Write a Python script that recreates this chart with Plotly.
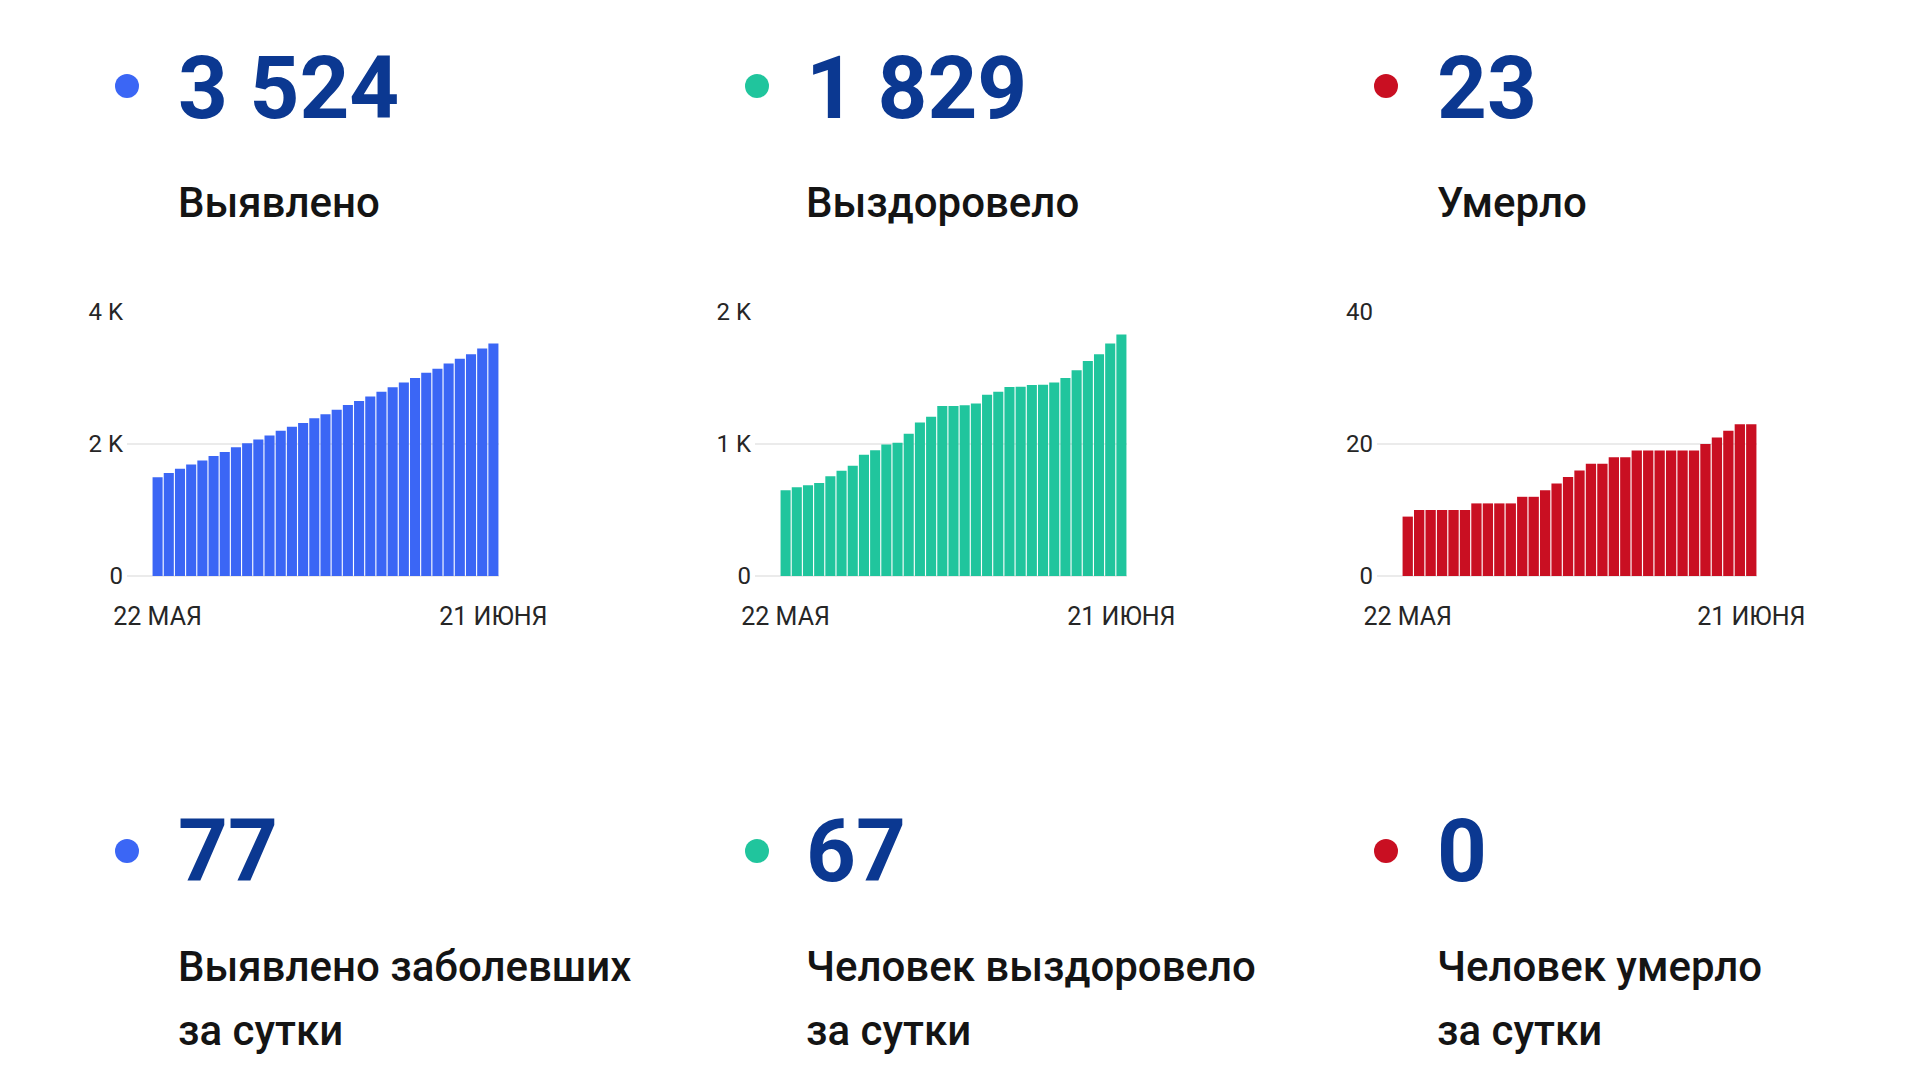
import plotly.graph_objects as go

W, H = 1920, 1080

# ---------------- data ----------------
dates = ["22 мая", "23 мая", "24 мая", "25 мая", "26 мая", "27 мая", "28 мая", "29 мая",
         "30 мая", "31 мая", "1 июня", "2 июня", "3 июня", "4 июня", "5 июня", "6 июня",
         "7 июня", "8 июня", "9 июня", "10 июня", "11 июня", "12 июня", "13 июня", "14 июня",
         "15 июня", "16 июня", "17 июня", "18 июня", "19 июня", "20 июня", "21 июня"]
cases = [1495, 1560, 1626, 1690, 1750, 1820, 1880, 1950, 2010, 2070, 2130, 2200, 2260, 2320,
         2390, 2450, 2520, 2590, 2650, 2720, 2790, 2860, 2930, 3000, 3080, 3140, 3220, 3290,
         3360, 3447, 3524]
recovered = [649, 672, 687, 705, 755, 798, 836, 919, 952, 997, 1010, 1078, 1162, 1207, 1288,
             1288, 1293, 1306, 1374, 1396, 1432, 1434, 1447, 1449, 1465, 1500, 1558, 1629,
             1679, 1762, 1829]
deaths = [9, 10, 10, 10, 10, 10, 11, 11, 11, 11, 12, 12, 13, 14, 15, 16, 17, 17, 18, 18, 19,
          19, 19, 19, 19, 19, 20, 21, 22, 23, 23]

totals = ["3 524", "1 829", "23"]
total_labels = ["Выявлено", "Выздоровело", "Умерло"]
daily = ["77", "67", "0"]
daily_line1 = ["Выявлено заболевших", "Человек выздоровело", "Человек умерло"]
daily_line2 = ["за сутки", "за сутки", "за сутки"]

x_ticktext = ["22 МАЯ", "21 ИЮНЯ"]
y_tickvals = [[0, 2000, 4000], [0, 1000, 2000], [0, 20, 40]]
y_ticktext = [["0", "2 K", "4 K"], ["0", "1 K", "2 K"], ["0", "20", "40"]]
y_ranges = [[0, 4000], [0, 2000], [0, 40]]

# ---------------- styles ----------------
bar_colors = ["#3b66f5", "#20c59d", "#c90f22"]
num_color = "#0b3891"
text_color = "#141414"
tick_color = "#262626"
grid_color = "#ebebeb"
FONT = "Roboto, 'Noto Sans', sans-serif"

# chart pixel geometry: grid left, bars left, right
charts_px = [(127, 152, 499), (755, 780, 1127), (1377, 1402, 1757)]
top_px, bot_px = 312, 576

dot_x = [127, 757, 1386]
text_x = [176, 804, 1435]


def px(x):
    return x / W


def py(y):
    return 1 - y / H


fig = go.Figure()
series = [cases, recovered, deaths]
layout_axes = {}
for i, (vals, (gl, bl, r)) in enumerate(zip(series, charts_px)):
    n = len(vals)
    pitch = (r - bl) / n
    r0 = -0.5 - (bl - gl) / pitch
    sfx = "" if i == 0 else str(i + 1)
    fig.add_trace(go.Bar(
        x=list(range(n)), y=vals, marker=dict(color=bar_colors[i], line=dict(width=0)),
        xaxis="x" + sfx, yaxis="y" + sfx, showlegend=False, hoverinfo="skip",
        customdata=dates,
    ))
    layout_axes["xaxis" + sfx] = dict(
        domain=[px(gl), px(r)], anchor="y" + sfx, range=[r0, n - 0.5],
        tickmode="array", tickvals=[0, n - 1], ticktext=x_ticktext,
        showgrid=False, zeroline=False, showline=False, ticks="",
        ticklabelstandoff=23, automargin=False,
        tickfont=dict(family=FONT, size=25, color=tick_color),
        fixedrange=True,
    )
    layout_axes["yaxis" + sfx] = dict(
        domain=[py(bot_px), py(top_px)], anchor="x" + sfx, range=y_ranges[i],
        tickmode="array", tickvals=y_tickvals[i], ticktext=y_ticktext[i],
        showgrid=True, gridcolor=grid_color, gridwidth=1.5,
        zeroline=True, zerolinecolor=grid_color, zerolinewidth=1.5,
        showline=False, ticks="", ticklabelstandoff=3, automargin=False,
        tickfont=dict(family=FONT, size=24, color=tick_color),
        fixedrange=True,
    )

annotations = []
shapes = []
for i in range(3):
    for cy in (86, 851):
        shapes.append(dict(type="circle", xref="paper", yref="paper",
                           x0=px(dot_x[i] - 12), x1=px(dot_x[i] + 12),
                           y0=py(cy + 12), y1=py(cy - 12),
                           fillcolor=bar_colors[i], line=dict(width=0)))
    annotations.append(dict(text=totals[i], x=px(text_x[i]), y=py(119 + 22), xref="paper",
                            yref="paper", xanchor="left", yanchor="bottom", showarrow=False,
                            font=dict(family=FONT, size=87, color=num_color, weight=700)))
    annotations.append(dict(text=daily[i], x=px(text_x[i]), y=py(882 + 22), xref="paper",
                            yref="paper", xanchor="left", yanchor="bottom", showarrow=False,
                            font=dict(family=FONT, size=87, color=num_color, weight=700)))
    annotations.append(dict(text=total_labels[i], x=px(text_x[i]), y=py(219 + 10), xref="paper",
                            yref="paper", xanchor="left", yanchor="bottom", showarrow=False,
                            font=dict(family=FONT, size=42, color=text_color, weight=500)))
    annotations.append(dict(text=daily_line1[i], x=px(text_x[i]), y=py(983 + 10), xref="paper",
                            yref="paper", xanchor="left", yanchor="bottom", showarrow=False,
                            font=dict(family=FONT, size=42, color=text_color, weight=500)))
    annotations.append(dict(text=daily_line2[i], x=px(text_x[i]), y=py(1047 + 10), xref="paper",
                            yref="paper", xanchor="left", yanchor="bottom", showarrow=False,
                            font=dict(family=FONT, size=42, color=text_color, weight=500)))

fig.update_layout(
    width=W, height=H, margin=dict(l=0, r=0, t=0, b=0, autoexpand=False),
    paper_bgcolor="white", plot_bgcolor="white",
    bargap=0.1, annotations=annotations, shapes=shapes,
    **layout_axes,
)

fig.write_html("out.html", config={"displayModeBar": False})
